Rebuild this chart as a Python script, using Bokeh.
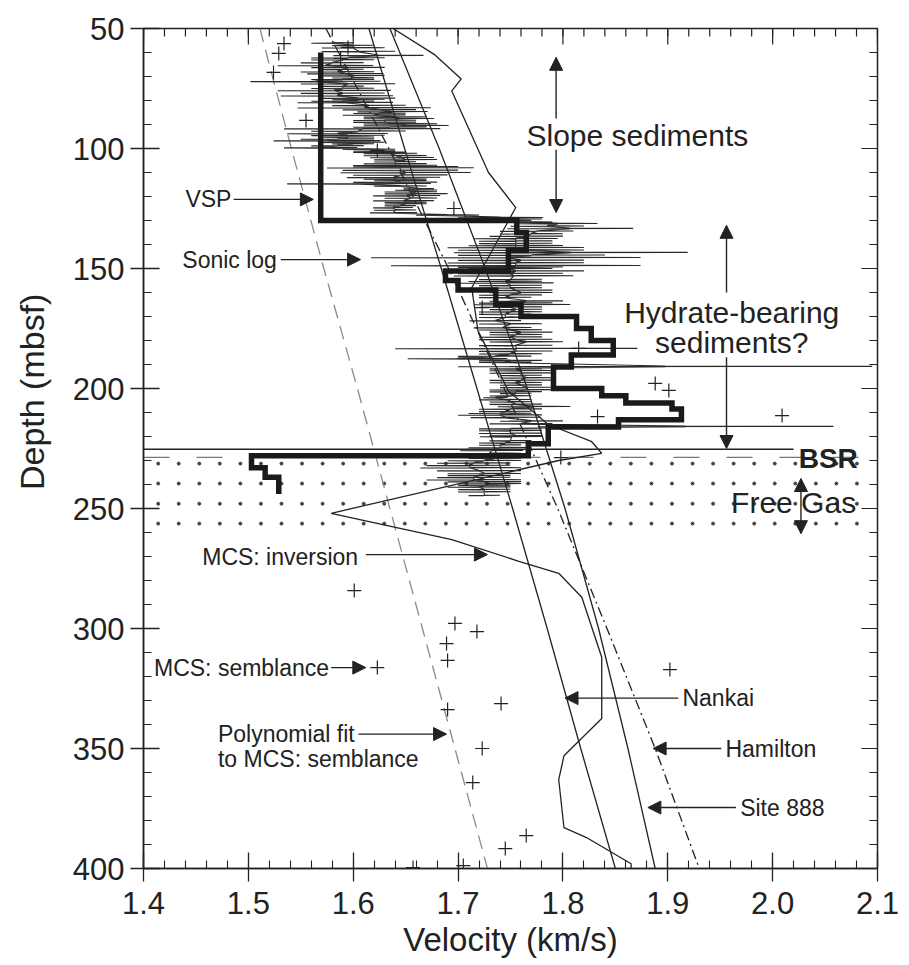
import numpy as np
from bokeh.plotting import figure
from bokeh.models import (Range1d, FixedTicker, Label, Arrow, NormalHead, PrintfTickFormatter)
from bokeh.embed import file_html
from bokeh.resources import INLINE

# ---------------- data ----------------
x_ticks = [1.4, 1.5, 1.6, 1.7, 1.8, 1.9, 2.0, 2.1]
x_minor = [round(1.4 + 0.02 * i, 2) for i in range(36)]
y_ticks = [50, 100, 150, 200, 250, 300, 350, 400]
y_minor = list(range(50, 401, 10))

# reference curves (depth m, velocity km/s)
curve_depth = [50, 100, 150, 200, 250, 300, 350, 400]
poly_fit_v = [1.511, 1.541, 1.572, 1.604, 1.635, 1.666, 1.697, 1.728]
nankai_v = [1.615, 1.649, 1.684, 1.718, 1.752, 1.785, 1.817, 1.850]
site888_v = [1.635, 1.682, 1.726, 1.766, 1.802, 1.834, 1.862, 1.888]
hamilton_v = [1.574, 1.634, 1.691, 1.744, 1.795, 1.842, 1.888, 1.930]

# MCS inversion profile
inv_depth = [50, 61, 71, 76, 110, 124.6, 158, 176, 201, 215, 222, 227, 230, 252, 263, 272,
             277, 287, 312, 337.5, 353, 363, 383, 387, 398, 400]
inv_v = [1.638, 1.678, 1.703, 1.694, 1.729, 1.755, 1.713, 1.719, 1.748, 1.786, 1.827, 1.837,
         1.796, 1.579, 1.694, 1.758, 1.796, 1.818, 1.837, 1.837, 1.801, 1.796, 1.801, 1.822,
         1.865, 1.865]

# MCS semblance picks
semb_v = [1.534, 1.529, 1.524, 1.595, 1.588, 1.555, 1.623, 1.696, 1.723, 1.815, 1.888, 1.901,
          1.833, 2.009, 1.798, 1.601, 1.697, 1.718, 1.689, 1.690, 1.623, 1.902, 1.741, 1.690,
          1.723, 1.714, 1.765, 1.745, 1.657, 1.705]
semb_d = [56.3, 60.4, 68.3, 57.9, 62.5, 88.3, 100.8, 125.0, 166.3, 183.3, 197.9, 200.8,
          211.7, 211.3, 228.8, 284.2, 297.9, 301.3, 306.3, 313.3, 316.3, 317.1, 331.3, 333.8,
          350.0, 364.2, 386.3, 391.7, 399.6, 398.8]

# VSP interval velocities: layer boundaries and velocity of each layer
vsp_bounds = [60, 130, 135, 142.5, 151, 155, 159, 165, 170, 175, 180, 186, 191, 200, 203,
              206, 208.5, 213, 216, 223, 228, 233, 237, 244]
vsp_vel = [1.569, 1.756, 1.765, 1.748, 1.688, 1.700, 1.736, 1.760, 1.813, 1.827, 1.848,
           1.808, 1.791, 1.837, 1.860, 1.904, 1.913, 1.853, 1.786, 1.767, 1.503, 1.516, 1.529]

# Sonic log excursions: (depth, low velocity, high velocity)
sonic_spikes = [
    (56, 1.56, 1.60), (58, 1.57, 1.63), (61.2, 1.581, 1.667), (63, 1.56, 1.62),
    (65.4, 1.528, 1.619), (67, 1.57, 1.61), (68.8, 1.556, 1.629), (70.5, 1.58, 1.62),
    (72, 1.502, 1.626), (74, 1.57, 1.61), (75.8, 1.528, 1.636), (78, 1.531, 1.638),
    (79.5, 1.58, 1.63), (80.8, 1.547, 1.638), (83, 1.547, 1.674), (84.6, 1.604, 1.671),
    (86, 1.59, 1.65), (87.5, 1.610, 1.677), (89, 1.60, 1.66), (90.4, 1.610, 1.691),
    (91.7, 1.534, 1.683), (93.75, 1.537, 1.633), (95.2, 1.57, 1.62), (96.7, 1.524, 1.626),
    (98, 1.58, 1.62), (99.6, 1.534, 1.604), (101, 1.60, 1.64), (102, 1.610, 1.661),
    (103.75, 1.616, 1.677), (105.5, 1.62, 1.66), (107, 1.60, 1.68), (108, 1.575, 1.715),
    (110, 1.588, 1.712), (112, 1.594, 1.683), (113.3, 1.62, 1.67), (114.6, 1.537, 1.674),
    (116.7, 1.648, 1.677), (118, 1.63, 1.68), (119.6, 1.619, 1.683), (121.7, 1.619, 1.677),
    (123, 1.63, 1.67), (124.6, 1.619, 1.657), (126.7, 1.616, 1.661), (128.75, 1.70, 1.781),
    (130, 1.72, 1.77), (131.25, 1.757, 1.833), (133.3, 1.747, 1.867), (135.5, 1.74, 1.80),
    (137.5, 1.715, 1.795), (139.5, 1.72, 1.79), (141.25, 1.690, 1.820), (143.3, 1.696, 1.919),
    (145.4, 1.617, 1.874), (146.5, 1.70, 1.82), (148.75, 1.636, 1.874), (150, 1.71, 1.79),
    (151, 1.690, 1.820), (153, 1.696, 1.810), (154.5, 1.72, 1.78), (156, 1.702, 1.791),
    (158, 1.72, 1.78), (160, 1.73, 1.79), (162, 1.72, 1.77), (163.5, 1.73, 1.80),
    (165, 1.715, 1.807), (167, 1.73, 1.78), (169, 1.72, 1.77), (171.7, 1.711, 1.760),
    (173, 1.72, 1.78), (174.6, 1.715, 1.770), (176.5, 1.73, 1.79), (178.5, 1.72, 1.78),
    (180.5, 1.73, 1.80), (182, 1.72, 1.79), (183.3, 1.640, 1.871), (185.5, 1.72, 1.78),
    (187.5, 1.652, 1.747), (189, 1.72, 1.77), (190.8, 1.700, 2.095), (192.5, 1.73, 1.79),
    (194.5, 1.74, 1.78), (196.5, 1.73, 1.79), (198.5, 1.74, 1.78), (200.5, 1.73, 1.80),
    (202, 1.74, 1.77), (203.75, 1.724, 1.747), (205.5, 1.73, 1.77), (207.5, 1.738, 1.807),
    (209.5, 1.72, 1.77), (211, 1.70, 1.78), (212, 1.712, 1.779), (213.5, 1.74, 1.80),
    (215.8, 1.776, 2.058), (217.5, 1.72, 1.78), (219.6, 1.73, 1.78), (220, 1.721, 1.781),
    (221.7, 1.73, 1.77), (223.5, 1.72, 1.76), (225.8, 1.702, 1.762), (227, 1.70, 1.76),
    (229, 1.71, 1.76), (231, 1.68, 1.75), (233, 1.664, 1.760), (235.4, 1.69, 1.76),
    (237, 1.68, 1.75), (238, 1.67, 1.76), (239.6, 1.70, 1.76), (241, 1.69, 1.75),
    (243, 1.70, 1.75), (244.5, 1.71, 1.74),
    # finer excursions between the main ones
    (57, 1.58, 1.62), (59.5, 1.57, 1.64), (62.2, 1.56, 1.63), (64.2, 1.55, 1.61),
    (66.2, 1.56, 1.63), (68, 1.55, 1.62), (69.6, 1.57, 1.63), (71.2, 1.56, 1.62),
    (73, 1.55, 1.64), (74.9, 1.56, 1.62), (76.9, 1.55, 1.63), (79, 1.57, 1.64),
    (80.2, 1.56, 1.62), (82, 1.58, 1.65), (83.8, 1.59, 1.66), (85.3, 1.60, 1.65),
    (86.8, 1.61, 1.67), (88.2, 1.60, 1.66), (89.7, 1.61, 1.68), (91, 1.60, 1.67),
    (92.7, 1.56, 1.65), (94.5, 1.56, 1.63), (96, 1.55, 1.62), (97.4, 1.57, 1.63),
    (98.8, 1.56, 1.61), (100.3, 1.59, 1.64), (101.5, 1.60, 1.65), (102.9, 1.61, 1.67),
    (104.6, 1.62, 1.68), (106.3, 1.61, 1.67), (107.5, 1.60, 1.70), (109, 1.59, 1.70),
    (111, 1.60, 1.69), (112.7, 1.61, 1.67), (114, 1.60, 1.68), (115.6, 1.62, 1.67),
    (117.3, 1.64, 1.68), (118.8, 1.63, 1.69), (120.6, 1.63, 1.68), (122.4, 1.63, 1.67),
    (123.8, 1.63, 1.66), (125.6, 1.62, 1.66), (127.7, 1.66, 1.72),
    (129.4, 1.71, 1.78), (130.6, 1.74, 1.79), (132.3, 1.75, 1.82), (134.4, 1.74, 1.81),
    (136.5, 1.73, 1.80), (138.5, 1.72, 1.79), (140.4, 1.71, 1.80), (142.3, 1.70, 1.82),
    (144.4, 1.70, 1.84), (147.6, 1.69, 1.82), (149.4, 1.70, 1.80), (152, 1.70, 1.80),
    (155.3, 1.71, 1.78), (157, 1.72, 1.78), (159, 1.72, 1.79),
    (161, 1.72, 1.78), (164.3, 1.72, 1.79), (166, 1.72, 1.78), (168, 1.72, 1.78),
    (170.3, 1.72, 1.77), (175.5, 1.72, 1.78), (177.5, 1.73, 1.78), (179.5, 1.72, 1.79),
    (184.4, 1.72, 1.79), (186.5, 1.70, 1.77), (188.3, 1.72, 1.78), (191.7, 1.73, 1.78),
    (193.5, 1.73, 1.79), (195.5, 1.74, 1.79), (197.5, 1.73, 1.78), (199.5, 1.74, 1.79),
    (201.3, 1.73, 1.78), (203, 1.73, 1.77), (204.6, 1.72, 1.77), (206.5, 1.73, 1.78),
    (208.5, 1.72, 1.78), (210.3, 1.71, 1.77), (214.6, 1.73, 1.79), (216.7, 1.72, 1.78),
    (218.6, 1.72, 1.78), (222.6, 1.72, 1.77), (224.6, 1.71, 1.77), (228, 1.70, 1.76),
    (230, 1.69, 1.76), (232, 1.67, 1.75), (234.2, 1.68, 1.76), (236.2, 1.69, 1.75),
    (238.8, 1.69, 1.76), (240.3, 1.70, 1.75), (242, 1.70, 1.75),
]

bsr_solid_depth = 225.3
bsr_dash_depth = 228.7
gas_dot_rows = [231.3, 239.6, 248.0, 256.3]

INK = "#222222"
FONT = "Liberation Sans"

# ---------------- figure ----------------
FRAME_W, FRAME_H = 734, 840
p = figure(width=900, height=965, x_range=Range1d(1.4, 2.1), y_range=Range1d(400, 50),
           output_backend="svg", toolbar_location=None,
           min_border_left=143, min_border_right=23, min_border_top=28, min_border_bottom=97)
p.grid.visible = False
p.outline_line_color = INK
p.outline_line_width = 1.5
p.background_fill_color = "white"
p.border_fill_color = "white"

for ax in (p.xaxis[0], p.yaxis[0]):
    ax.axis_line_color = INK
    ax.axis_line_width = 1.5
    ax.major_tick_line_color = INK
    ax.minor_tick_line_color = INK
    ax.major_tick_line_width = 1.3
    ax.minor_tick_line_width = 1.1
    ax.major_tick_in = 16
    ax.major_tick_out = 13
    ax.minor_tick_in = 8
    ax.minor_tick_out = 0
    ax.major_label_text_font = FONT
    ax.major_label_text_font_size = "31px"
    ax.major_label_text_color = INK
    ax.axis_label_text_font = FONT
    ax.axis_label_text_font_style = "normal"
    ax.axis_label_text_color = INK

p.xaxis.ticker = FixedTicker(ticks=x_ticks, minor_ticks=x_minor)
p.xaxis.formatter = PrintfTickFormatter(format="%.1f")
p.yaxis.ticker = FixedTicker(ticks=y_ticks, minor_ticks=y_minor)
p.xaxis.major_label_standoff = 10
p.yaxis.major_label_standoff = 6
p.xaxis.axis_label = "Velocity (km/s)"
p.xaxis.axis_label_text_font_size = "33px"
p.xaxis.axis_label_standoff = 4
p.yaxis.axis_label = "\u00a0" * 12 + "Depth (mbsf)"
p.yaxis.axis_label_text_font_size = "34px"
p.yaxis.axis_label_standoff = 19

# inward ticks on top and right frame edges (drawn from the tick arrays)
pv = 0.7 / FRAME_W      # velocity units per pixel
pd = 350.0 / FRAME_H    # depth units per pixel
tx0, tx1, ty0, ty1 = [], [], [], []
for t in x_ticks:
    tx0.append(t); tx1.append(t); ty0.append(50); ty1.append(50 + 16 * pd)
for t in x_minor:
    tx0.append(t); tx1.append(t); ty0.append(50); ty1.append(50 + 8 * pd)
for t in y_ticks:
    tx0.append(2.1); tx1.append(2.1 - 16 * pv); ty0.append(t); ty1.append(t)
for t in y_minor:
    tx0.append(2.1); tx1.append(2.1 - 8 * pv); ty0.append(t); ty1.append(t)
p.segment(tx0, ty0, tx1, ty1, line_color=INK, line_width=1.2)

# ---------------- free gas stipple ----------------
dot_cols = np.arange(1.414, 2.085, 0.0196)
dx, dy = np.meshgrid(dot_cols, gas_dot_rows)
p.scatter(dx.ravel(), dy.ravel(), marker="circle", size=3, color="#444444")

# ---------------- BSR lines ----------------
p.line([1.4, 2.02], [bsr_solid_depth, bsr_solid_depth], line_color=INK, line_width=1.4)
p.line([1.4, 2.1], [bsr_dash_depth, bsr_dash_depth], line_color="#777777", line_width=1.4,
       line_dash="26 27")

# ---------------- curves ----------------
p.line(poly_fit_v, curve_depth, line_color="#8a8a8a", line_width=1.3, line_dash="14 8")
p.line(nankai_v, curve_depth, line_color=INK, line_width=1.3)
p.line(site888_v, curve_depth, line_color=INK, line_width=1.3)
p.line(hamilton_v, curve_depth, line_color=INK, line_width=1.3, line_dash="10 4 2 4")
p.line(inv_v, inv_depth, line_color=INK, line_width=1.3)

# sonic log: each excursion is a near-horizontal out-and-back stroke
sonic_d, sonic_v = [], []
for d, lo, hi in sorted(sonic_spikes):
    mid = 0.5 * (lo + hi)
    sonic_d += [d - 0.15, d, d + 0.12, d + 0.25]
    sonic_v += [mid, hi, lo, mid]
p.line(sonic_v, sonic_d, line_color="#2a2a2a", line_width=1.1)

# VSP staircase
vsp_x, vsp_y = [], []
for i, v in enumerate(vsp_vel):
    vsp_x += [v, v]
    vsp_y += [vsp_bounds[i], vsp_bounds[i + 1]]
p.line(vsp_x, vsp_y, line_color="#1a1a1a", line_width=5.5, line_join="miter")

# MCS semblance picks
p.scatter(semb_v, semb_d, marker="cross", size=14, line_color=INK, line_width=1.2)

# ---------------- annotations ----------------
def label(x, y, text, size="23px", align="left", bold=False):
    p.add_layout(Label(x=x, y=y, text=text, text_font=FONT, text_font_size=size,
                       text_color=INK, text_align=align, text_baseline="middle",
                       text_font_style="bold" if bold else "normal"))


def arrow(x0, y0, x1, y1, both=False):
    kw = dict(end=NormalHead(size=13, fill_color=INK, line_color=INK, line_width=1),
              x_start=x0, y_start=y0, x_end=x1, y_end=y1, line_color=INK, line_width=1.4)
    if both:
        kw["start"] = NormalHead(size=13, fill_color=INK, line_color=INK, line_width=1)
    p.add_layout(Arrow(**kw))


label(1.440, 121.2, "VSP")
arrow(1.486, 121.2, 1.562, 121.2)
label(1.437, 146.3, "Sonic log")
arrow(1.531, 146.3, 1.607, 146.3)
label(1.456, 270.0, "MCS: inversion")
arrow(1.612, 269.2, 1.728, 269.2)
label(1.410, 316.3, "MCS: semblance")
arrow(1.579, 316.3, 1.612, 316.3)
label(1.471, 344.0, "Polynomial fit")
label(1.471, 354.5, "to MCS: semblance")
arrow(1.605, 344.0, 1.689, 344.0)
label(1.914, 329.0, "Nankai")
arrow(1.910, 329.0, 1.802, 329.0)
label(1.955, 350.0, "Hamilton")
arrow(1.951, 350.0, 1.886, 350.0)
label(1.969, 374.6, "Site 888")
arrow(1.965, 374.6, 1.881, 374.6)

label(1.871, 94.6, "Slope sediments", size="30px", align="center")
arrow(1.7935, 87.5, 1.7935, 62.0)
arrow(1.7935, 100.5, 1.7935, 126.7)

label(1.961, 168.3, "Hydrate-bearing", size="30px", align="center")
label(1.961, 180.8, "sediments?", size="30px", align="center")
arrow(1.956, 160.0, 1.956, 132.0)
arrow(1.956, 187.0, 1.956, 225.0)

label(2.053, 229.2, "BSR", size="28px", align="center", bold=True)
label(2.020, 247.5, "Free Gas", size="30px", align="center")
arrow(2.027, 237.5, 2.027, 260.5, both=True)

open("out.html", "w").write(file_html(p, INLINE))
